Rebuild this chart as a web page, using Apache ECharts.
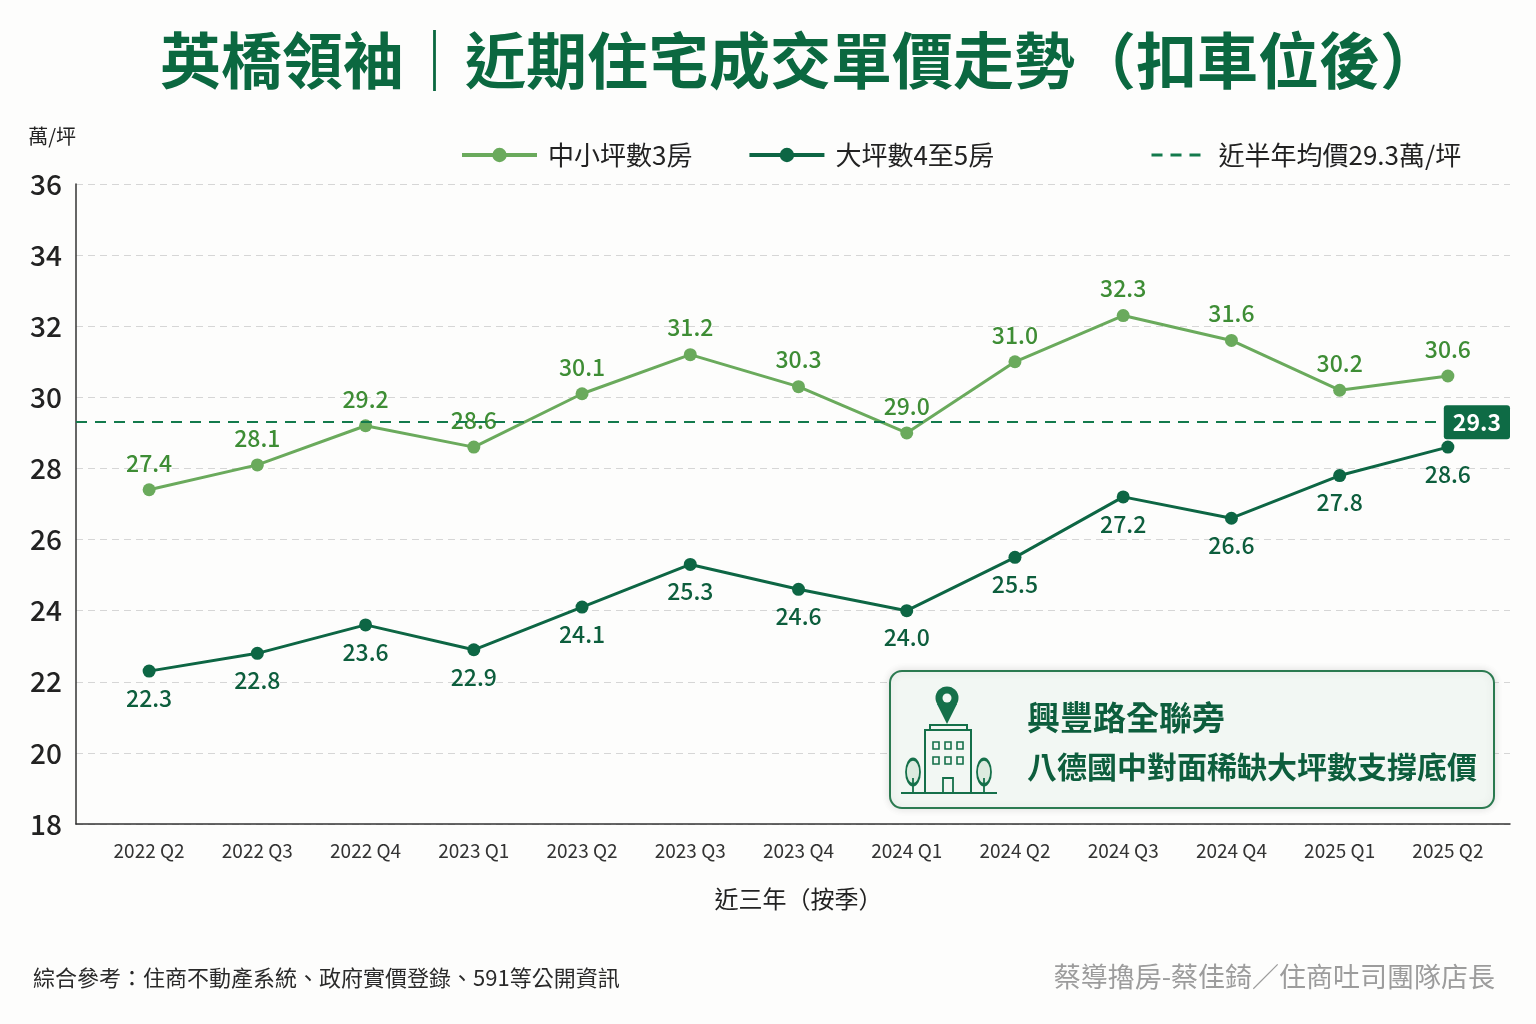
<!DOCTYPE html>
<html>
<head>
<meta charset="utf-8">
<script src="https://cdn.jsdelivr.net/npm/echarts@6/dist/echarts.min.js"></script>
<style>
  html, body { margin: 0; padding: 0; background: #fdfdfc; }
  #main { width: 1536px; height: 1024px; }
</style>
</head>
<body>
<div id="main"></div>
<script>
var quarters = ['2022 Q2', '2022 Q3', '2022 Q4', '2023 Q1', '2023 Q2', '2023 Q3', '2023 Q4',
                '2024 Q1', '2024 Q2', '2024 Q3', '2024 Q4', '2025 Q1', '2025 Q2'];
var smallThree = [27.4, 28.1, 29.2, 28.6, 30.1, 31.2, 30.3, 29.0, 31.0, 32.3, 31.6, 30.2, 30.6];
var bigFourFive = [22.3, 22.8, 23.6, 22.9, 24.1, 25.3, 24.6, 24.0, 25.5, 27.2, 26.6, 27.8, 28.6];
var halfYearAvg = 29.3;
var yTicks = { min: 18, max: 36, step: 2 };

var font = '"Noto Sans CJK TC", "Noto Sans", sans-serif';
var lightGreen = '#6aaa5c';
var darkGreen = '#0d6644';
var iconGreen = '#15704a';

function windowRect(x, y) {
    return {
        type: 'rect', z: 13,
        shape: { x: x, y: y, width: 6, height: 7 },
        style: { fill: 'none', stroke: iconGreen, lineWidth: 1.6 }
    };
}

function tree(cx) {
    return {
        type: 'circle',
        x: cx,
        y: 772,
        scaleY: 1.85,
        shape: { cx: 0, cy: 0, r: 7 },
        style: { fill: '#dcebdf', stroke: iconGreen, lineWidth: 1.8, strokeNoScale: true },
        z: 11
    };
}

var myChart = echarts.init(document.getElementById('main'));
myChart.setOption({
    backgroundColor: '#fdfdfc',
    textStyle: { fontFamily: font },
    title: [
        {
            text: '英橋領袖｜近期住宅成交單價走勢（扣車位後）',
            left: 155,
            top: 25,
            textStyle: { fontSize: 61, fontWeight: 'bold', color: '#0b6840', fontFamily: font }
        },
        {
            text: '綜合參考：住商不動產系統、政府實價登錄、591等公開資訊',
            left: 28,
            top: 962,
            textStyle: { fontSize: 22, fontWeight: 'normal', color: '#2a2a2a', fontFamily: font }
        },
        {
            text: '蔡導擼房-蔡佳錡／住商吐司團隊店長',
            right: 36,
            top: 958,
            textStyle: { fontSize: 27, fontWeight: 'normal', color: '#9c9c9c', fontFamily: font }
        }
    ],
    legend: [
        {
            data: ['中小坪數3房', '大坪數4至5房'],
            left: 455,
            top: 137,
            itemWidth: 75,
            itemHeight: 18,
            itemGap: 55,
            lineStyle: { width: 4 },
            textStyle: { fontSize: 26, color: '#222', fontFamily: font, padding: [0, 0, 0, 6] }
        },
        {
            data: ['近半年均價29.3萬/坪'],
            left: 1145,
            top: 137,
            itemWidth: 56,
            itemHeight: 18,
            lineStyle: { width: 3 },
            textStyle: { fontSize: 26, color: '#222', fontFamily: font, padding: [0, 0, 0, 6] }
        }
    ],
    grid: [
        { left: 76, right: 26, top: 184, bottom: 200 },
        { left: 95, right: 34, top: 184, bottom: 200 }
    ],
    xAxis: [
        {
            gridIndex: 0,
            type: 'value',
            min: 0,
            max: 1,
            axisLine: { show: true, lineStyle: { color: '#333', width: 1.5 } },
            axisTick: { show: false },
            axisLabel: { show: false },
            splitLine: { show: false }
        },
        {
            gridIndex: 1,
            type: 'category',
            data: quarters,
            boundaryGap: true,
            axisLine: { show: false },
            axisTick: { show: false },
            axisLabel: { fontSize: 19, color: '#333', margin: 17, interval: 0 },
            name: '近三年（按季）',
            nameLocation: 'middle',
            nameGap: 63,
            nameTextStyle: { fontSize: 24, color: '#222' }
        }
    ],
    yAxis: [
        {
            gridIndex: 0,
            type: 'value',
            min: yTicks.min,
            max: yTicks.max,
            interval: yTicks.step,
            name: '萬/坪',
            nameLocation: 'end',
            nameGap: 38,
            nameTextStyle: { fontSize: 20, color: '#222', align: 'right' },
            axisLine: { show: true, lineStyle: { color: '#333', width: 1.5 } },
            axisTick: { show: false },
            axisLabel: { fontSize: 28, color: '#222', margin: 14, fontWeight: 500 },
            splitLine: { show: true, lineStyle: { color: '#d6d6d6', type: [7, 5], width: 1.2 } }
        },
        {
            gridIndex: 1,
            type: 'value',
            min: yTicks.min,
            max: yTicks.max,
            show: false
        }
    ],
    series: [
        {
            name: '中小坪數3房',
            type: 'line',
            xAxisIndex: 1,
            yAxisIndex: 1,
            data: smallThree,
            symbol: 'circle',
            symbolSize: 13,
            lineStyle: { color: lightGreen, width: 3 },
            itemStyle: { color: lightGreen },
            label: {
                show: true,
                position: 'top',
                distance: 9,
                fontSize: 23,
                fontWeight: 500,
                color: '#3e8d35',
                formatter: function (p) { return p.value.toFixed(1); }
            },
            z: 3
        },
        {
            name: '大坪數4至5房',
            type: 'line',
            xAxisIndex: 1,
            yAxisIndex: 1,
            data: bigFourFive,
            symbol: 'circle',
            symbolSize: 13,
            lineStyle: { color: darkGreen, width: 3 },
            itemStyle: { color: darkGreen },
            label: {
                show: true,
                position: 'bottom',
                distance: 9,
                fontSize: 23,
                fontWeight: 500,
                color: '#0d5e3d',
                formatter: function (p) { return p.value.toFixed(1); }
            },
            z: 3
        },
        {
            name: '近半年均價29.3萬/坪',
            type: 'line',
            xAxisIndex: 0,
            yAxisIndex: 0,
            data: [],
            symbol: 'none',
            lineStyle: { color: '#137a4c', width: 2.5, type: [11, 8] },
            itemStyle: { color: 'rgba(0,0,0,0)' },
            markLine: {
                silent: true,
                symbol: 'none',
                lineStyle: { color: '#137a4c', width: 2, type: [11, 8] },
                label: {
                    show: true,
                    position: 'insideEnd',
                    distance: 0,
                    formatter: halfYearAvg.toFixed(1),
                    backgroundColor: '#0e6b45',
                    color: '#fff',
                    fontSize: 23,
                    fontWeight: 'bold',
                    padding: [6, 9, 5, 9],
                    borderRadius: 3
                },
                data: [{ yAxis: halfYearAvg }]
            },
            z: 2
        }
    ],
    graphic: [
        {
            type: 'rect',
            shape: { x: 890, y: 671, width: 604, height: 137, r: 12 },
            style: {
                fill: '#f2f7f3',
                stroke: '#2b7a50',
                lineWidth: 2,
                shadowBlur: 8,
                shadowColor: 'rgba(0,0,0,0.12)'
            },
            z: 10
        },
        // 定位圖釘
        {
            type: 'polygon',
            shape: { points: [[937, 704], [957, 704], [947, 724]] },
            style: { fill: iconGreen },
            z: 11
        },
        {
            type: 'circle',
            shape: { cx: 947, cy: 698, r: 11.5 },
            style: { fill: iconGreen },
            z: 11
        },
        {
            type: 'circle',
            shape: { cx: 947, cy: 698, r: 4.5 },
            style: { fill: '#f2f7f3' },
            z: 12
        },
        // 建築物
        {
            type: 'rect',
            shape: { x: 930, y: 725, width: 37, height: 5 },
            style: { fill: 'none', stroke: iconGreen, lineWidth: 2 },
            z: 11
        },
        {
            type: 'rect',
            shape: { x: 925, y: 730, width: 46, height: 63 },
            style: { fill: '#f2f7f3', stroke: iconGreen, lineWidth: 2 },
            z: 11
        },
        windowRect(933, 742), windowRect(945, 742), windowRect(957, 742),
        windowRect(933, 757), windowRect(945, 757), windowRect(957, 757),
        {
            type: 'rect', z: 13,
            shape: { x: 943, y: 778, width: 10, height: 15 },
            style: { fill: 'none', stroke: iconGreen, lineWidth: 1.8 }
        },
        // 樹
        tree(913),
        tree(984),
        {
            type: 'polyline',
            shape: { points: [[913, 778], [913, 793]] },
            style: { stroke: iconGreen, lineWidth: 1.8 },
            z: 12
        },
        {
            type: 'polyline',
            shape: { points: [[984, 778], [984, 793]] },
            style: { stroke: iconGreen, lineWidth: 1.8 },
            z: 12
        },
        {
            type: 'polyline',
            shape: { points: [[901, 793], [997, 793]] },
            style: { stroke: iconGreen, lineWidth: 2 },
            z: 12
        },
        {
            type: 'text',
            x: 1027,
            y: 717,
            style: {
                text: '興豐路全聯旁',
                fill: '#0d5e3d',
                font: 'bold 33px ' + font,
                textVerticalAlign: 'middle'
            },
            z: 12
        },
        {
            type: 'text',
            x: 1027,
            y: 767,
            style: {
                text: '八德國中對面稀缺大坪數支撐底價',
                fill: '#0d5e3d',
                font: 'bold 30px ' + font,
                textVerticalAlign: 'middle'
            },
            z: 12
        }
    ]
});
</script>
</body>
</html>
